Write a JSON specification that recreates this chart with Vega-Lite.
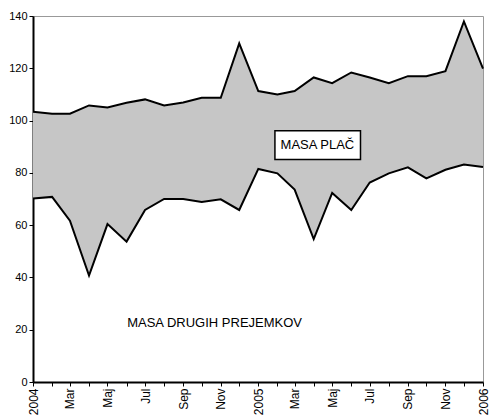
{
  "$schema": "https://vega.github.io/schema/vega-lite/v6.json",
  "autosize": {"type": "none"},
  "padding": {"left": 33, "top": 16, "right": 6, "bottom": 34},
  "width": 450,
  "height": 366,
  "background": "white",
  "config": {
    "view": {"stroke": "#999999", "strokeWidth": 1},
    "font": "Liberation Sans",
    "axis": {
      "grid": false,
      "title": null,
      "domainColor": "black",
      "domainWidth": 2,
      "tickColor": "black",
      "tickWidth": 1,
      "tickSize": 4,
      "labelColor": "black",
      "labelFont": "Liberation Sans"
    }
  },
  "datasets": {
    "mase": [
      {"date": "2004/01/01", "total": 103.4, "other": 70.2},
      {"date": "2004/02/01", "total": 102.6, "other": 70.8},
      {"date": "2004/03/01", "total": 102.6, "other": 61.7},
      {"date": "2004/04/01", "total": 105.8, "other": 40.7},
      {"date": "2004/05/01", "total": 105.0, "other": 60.4},
      {"date": "2004/06/01", "total": 106.8, "other": 53.7},
      {"date": "2004/07/01", "total": 108.1, "other": 65.8},
      {"date": "2004/08/01", "total": 105.8, "other": 70.0},
      {"date": "2004/09/01", "total": 106.9, "other": 70.0},
      {"date": "2004/10/01", "total": 108.7, "other": 68.9},
      {"date": "2004/11/01", "total": 108.7, "other": 69.9},
      {"date": "2004/12/01", "total": 129.5, "other": 65.8},
      {"date": "2005/01/01", "total": 111.3, "other": 81.5},
      {"date": "2005/02/01", "total": 110.0, "other": 79.8},
      {"date": "2005/03/01", "total": 111.3, "other": 73.6},
      {"date": "2005/04/01", "total": 116.5, "other": 54.7},
      {"date": "2005/05/01", "total": 114.3, "other": 72.3},
      {"date": "2005/06/01", "total": 118.4, "other": 65.8},
      {"date": "2005/07/01", "total": 116.5, "other": 76.3},
      {"date": "2005/08/01", "total": 114.3, "other": 79.8},
      {"date": "2005/09/01", "total": 117.0, "other": 82.1},
      {"date": "2005/10/01", "total": 117.0, "other": 77.9},
      {"date": "2005/11/01", "total": 118.9, "other": 81.2},
      {"date": "2005/12/01", "total": 137.9, "other": 83.2},
      {"date": "2006/01/01", "total": 119.9, "other": 82.2}
    ],
    "one": [{"a": 1}]
  },
  "layer": [
    {
      "data": {"name": "mase"},
      "mark": {"type": "area", "color": "#c6c6c6", "opacity": 1},
      "encoding": {
        "x": {
          "field": "date",
          "type": "temporal",
          "scale": {
            "nice": false,
            "domain": [
              {"year": 2004, "month": 1, "date": 1},
              {"year": 2006, "month": 1, "date": 1}
            ]
          },
          "axis": {
            "tickCount": {"interval": "month", "step": 1},
            "labelAngle": -90,
            "labelAlign": "right",
            "labelBaseline": "middle",
            "labelFontSize": 12,
            "labelPadding": 2,
            "labelOverlap": false,
            "labelFlush": false,
            "labelExpr": "month(datum.value) == 0 ? timeFormat(datum.value, '%Y') : (month(datum.value) % 2 == 0 ? ['Jan','Feb','Mar','Apr','Maj','Jun','Jul','Avg','Sep','Okt','Nov','Dec'][month(datum.value)] : '')"
          }
        },
        "y": {
          "field": "total",
          "type": "quantitative",
          "scale": {"domain": [0, 140], "nice": false},
          "axis": {"values": [0, 20, 40, 60, 80, 100, 120, 140], "labelFontSize": 11, "labelPadding": 2}
        },
        "y2": {"field": "other"}
      }
    },
    {
      "data": {"name": "mase"},
      "mark": {"type": "line", "color": "black", "strokeWidth": 2},
      "encoding": {
        "x": {"field": "date", "type": "temporal"},
        "y": {"field": "total", "type": "quantitative"}
      }
    },
    {
      "data": {"name": "mase"},
      "mark": {"type": "line", "color": "black", "strokeWidth": 2},
      "encoding": {
        "x": {"field": "date", "type": "temporal"},
        "y": {"field": "other", "type": "quantitative"}
      }
    },
    {
      "data": {"name": "one"},
      "mark": {"type": "rect", "fill": "white", "stroke": "black", "strokeWidth": 1.5},
      "encoding": {
        "x": {"datum": {"year": 2005, "month": 1, "date": 28}, "type": "temporal"},
        "x2": {"datum": {"year": 2005, "month": 6, "date": 16}},
        "y": {"datum": 96.1, "type": "quantitative"},
        "y2": {"datum": 85.1}
      }
    },
    {
      "data": {"name": "one"},
      "mark": {"type": "text", "font": "Liberation Sans", "fontSize": 13, "color": "black", "align": "center", "baseline": "middle"},
      "encoding": {
        "x": {"datum": {"year": 2005, "month": 4, "date": 7}, "type": "temporal"},
        "y": {"datum": 90.7, "type": "quantitative"},
        "text": {"value": "MASA PLAČ"}
      }
    },
    {
      "data": {"name": "one"},
      "mark": {"type": "text", "font": "Liberation Sans", "fontSize": 13, "color": "black", "align": "center", "baseline": "middle"},
      "encoding": {
        "x": {"datum": {"year": 2004, "month": 10, "date": 22}, "type": "temporal"},
        "y": {"datum": 22.6, "type": "quantitative"},
        "text": {"value": "MASA DRUGIH PREJEMKOV"}
      }
    }
  ]
}
